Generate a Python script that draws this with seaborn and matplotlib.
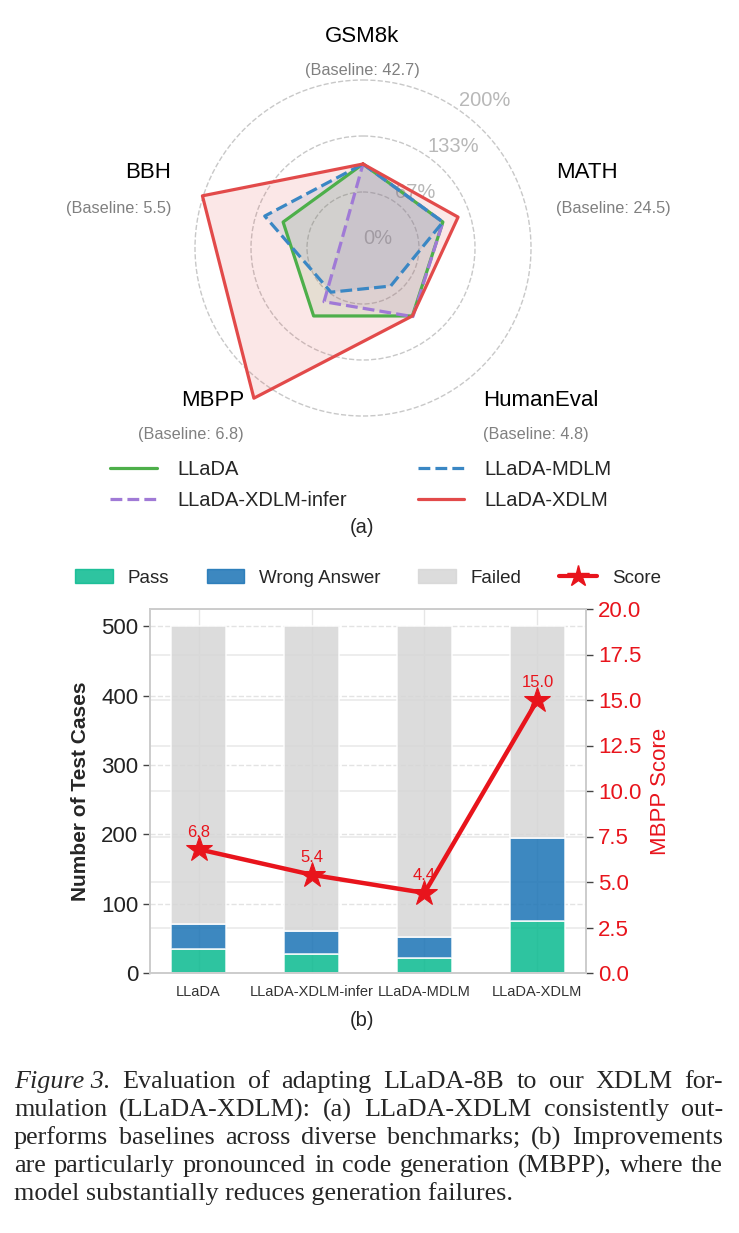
import numpy as np
import pandas as pd
import seaborn as sns
import matplotlib.pyplot as plt
from matplotlib.lines import Line2D
from matplotlib.patches import Patch

# ---- radar data: score relative to the LLaDA baseline (1.0 = baseline) ----
benchmarks = ["GSM8k", "MATH", "HumanEval", "MBPP", "BBH"]
baselines = [42.7, 24.5, 4.8, 6.8, 5.5]
radar_models = ["LLaDA", "LLaDA-XDLM-infer", "LLaDA-MDLM", "LLaDA-XDLM"]
llada_rel = [1.00, 1.00, 1.00, 1.00, 1.00]
xdlm_infer_rel = [1.00, 1.00, 1.01, 0.79, 0.27]
mdlm_rel = [1.00, 1.00, 0.56, 0.65, 1.23]
xdlm_rel = [1.00, 1.19, 1.00, 2.21, 2.01]
radar_ticks = [0, 2 / 3, 4 / 3, 2]
radar_ticklabels = ["0%", "67%", "133%", "200%"]

# ---- MBPP breakdown (500 test cases per model) ----
bar_models = ["LLaDA", "LLaDA-XDLM-infer", "LLaDA-MDLM", "LLaDA-XDLM"]
n_pass = [34, 27, 22, 75]
n_wrong = [37, 34, 30, 120]
n_failed = [429, 439, 448, 305]
mbpp_score = [6.8, 5.4, 4.4, 15.0]
score_ticks = [0, 2.5, 5, 7.5, 10, 12.5, 15, 17.5, 20]

caption_lines = [
    [("Figure 3.", "italic"), ("Evaluation", "normal"), ("of", "normal"), ("adapting", "normal"),
     ("LLaDA-8B", "normal"), ("to", "normal"), ("our", "normal"), ("XDLM", "normal"), ("for-", "normal")],
    "mulation (LLaDA-XDLM): (a) LLaDA-XDLM consistently out-",
    "performs baselines across diverse benchmarks; (b) Improvements",
    "are particularly pronounced in code generation (MBPP), where the",
    "model substantially reduces generation failures.",
]

sns.set_style("white")
plt.rcParams["font.family"] = ["Liberation Sans", "DejaVu Sans"]

W, H = 739, 1233
fig = plt.figure(figsize=(W / 100, H / 100), dpi=100)


def px(x, y):
    return x / W, 1 - y / H


# ---------------- (a) radar ----------------
c_green, c_purple, c_blue, c_red = "#4daf4a", "#a07ad6", "#3a87c4", "#e24a4a"
cx, cy, scale, rmax = 363, 248, 84, 2.4
rad = scale * rmax
axr = fig.add_axes([(cx - rad) / W, 1 - (cy + rad) / H, 2 * rad / W, 2 * rad / H], polar=True)
axr.set_theta_offset(np.pi / 2)
axr.set_theta_direction(-1)
angles = np.arange(len(benchmarks)) * 2 * np.pi / len(benchmarks)
closed = np.r_[angles, angles[0]]

series = [
    (radar_models[0], llada_rel, c_green, "-"),
    (radar_models[1], xdlm_infer_rel, c_purple, "--"),
    (radar_models[2], mdlm_rel, c_blue, "--"),
    (radar_models[3], xdlm_rel, c_red, "-"),
]
handles_a = []
for name, vals, col, ls in series:
    v = np.r_[vals, vals[0]]
    axr.fill(closed, v, color=col, alpha=0.13, lw=0)
    ln, = axr.plot(closed, v, color=col, lw=2.3, ls=ls, label=name)
    handles_a.append(ln)

axr.set_ylim(0, rmax)
axr.set_yticks(radar_ticks)
axr.set_yticklabels(radar_ticklabels, color="#b8b8b8", fontsize=14.5)
axr.set_rlabel_position(35)
axr.set_xticks(angles)
axr.set_xticklabels([])
axr.xaxis.grid(False)
axr.yaxis.grid(True, ls="--", color="#c8c8c8", lw=1)
axr.spines["polar"].set_visible(False)
axr.set_facecolor("none")

name_pos = [(362, 36, "center"), (556, 172, "left"), (483, 400, "left"),
            (244, 400, "right"), (171, 172, "right")]
base_pos = [(362, 70, "center"), (556, 209, "left"), (483, 434, "left"),
            (244, 434, "right"), (171, 209, "right")]
for b, bl, (nx, ny, nha), (bx, by, bha) in zip(benchmarks, baselines, name_pos, base_pos):
    fig.text(*px(nx, ny), b, ha=nha, va="center", fontsize=16, color="black")
    fig.text(*px(bx, by), f"(Baseline: {bl})", ha=bha, va="center", fontsize=11.7, color="#808080")

fig.legend(handles_a, radar_models, loc="center", bbox_to_anchor=px(361, 485), ncol=2,
           frameon=False, fontsize=14.5, handlelength=2.3, handletextpad=1.0, columnspacing=3.55,
           labelspacing=0.6)
fig.text(*px(362, 528), "(a)", ha="center", va="center", fontsize=14.5)

# ---------------- (b) stacked bars + score ----------------
c_pass, c_wrong, c_failed, c_score = "#09ba8f", "#1b73b5", "#d6d6d6", "#e8141c"
bar_alpha = 0.85
left, right, bottom, top = 150, 586, 973, 609
ymax = 525
ax = fig.add_axes([left / W, 1 - bottom / H, (right - left) / W, (bottom - top) / H])

df = pd.DataFrame({"model": bar_models, "pass": n_pass, "wrong": n_wrong, "failed": n_failed})
df["pass_wrong"] = df["pass"] + df["wrong"]
stack = [("pass", c_pass, np.zeros(len(df))),
         ("wrong", c_wrong, df["pass"].to_numpy()),
         ("failed", c_failed, df["pass_wrong"].to_numpy())]
for col, color, base in stack:
    sns.barplot(data=df, x="model", y=col, color=color, saturation=1, width=0.49, alpha=bar_alpha,
                edgecolor="white", linewidth=1.2, errorbar=None, bottom=base, ax=ax)

ax.set_xlim(-0.43, len(bar_models) - 0.57)
ax.set_ylim(0, ymax)
ax.set_yticks([0, 100, 200, 300, 400, 500])
# right-axis grid lines drawn on the left axes so they sit behind the bars
ax.set_yticks([t * ymax / 20 for t in score_ticks], minor=True)
ax.set_xlabel("")
ax.set_ylabel("Number of Test Cases", fontsize=15, fontweight="bold", labelpad=8)
ax.set_axisbelow(True)
ax.yaxis.grid(True, which="major", ls="--", color="#e3e3e3", lw=1)
ax.yaxis.grid(True, which="minor", ls="-", color="#ececec", lw=1.3)
ax.xaxis.grid(True, color="#e6e6e6", lw=1)
ax.tick_params(axis="y", which="major", length=5, width=1, color="#444444", labelsize=16, labelcolor="#222222")
ax.tick_params(axis="y", which="minor", length=0)
ax.tick_params(axis="x", length=0, labelsize=10.5, labelcolor="#333333", pad=9)
for s in ax.spines.values():
    s.set_color("#cccccc")
    s.set_linewidth(1.2)

ax2 = ax.twinx()
sns.lineplot(x=np.arange(len(bar_models)), y=mbpp_score, ax=ax2, color=c_score, lw=3.2,
             marker="*", markersize=19, markeredgecolor=c_score)
for i, s in enumerate(mbpp_score):
    ax2.annotate(f"{s:.1f}", (i, s), xytext=(0, 7), textcoords="offset points",
                 ha="center", va="bottom", color=c_score, fontsize=12)
ax2.set_ylim(0, 20)
ax2.set_yticks(score_ticks)
ax2.set_yticklabels([f"{t:.1f}" for t in score_ticks])
ax2.grid(False)
ax2.set_ylabel("MBPP Score", fontsize=16, color=c_score, labelpad=6)
ax2.tick_params(axis="y", length=5, width=1, color="#444444", labelsize=16, labelcolor=c_score)
for s in ax2.spines.values():
    s.set_color("#cccccc")
    s.set_linewidth(1.2)

handles_b = [Patch(color=c_pass, alpha=bar_alpha, label="Pass"),
             Patch(color=c_wrong, alpha=bar_alpha, label="Wrong Answer"),
             Patch(color=c_failed, alpha=bar_alpha, label="Failed"),
             Line2D([], [], color=c_score, lw=3, marker="*", markersize=16, label="Score")]
ax2.legend(handles=handles_b, loc="center", bbox_to_anchor=((368 - left) / (right - left), (bottom - 578) / (bottom - top)),
           ncol=4, frameon=False, fontsize=13.5, handlelength=2.0, handletextpad=0.8, columnspacing=2.0)
fig.text(*px(362, 1020), "(b)", ha="center", va="center", fontsize=14.5)

# ---------------- caption (justified) ----------------
cap_size = 18.8
cap_x0, cap_x1 = 14, 723
cap_y = [1082, 1110, 1138, 1166, 1194]
renderer = fig.canvas.get_renderer()
for k, (line, y) in enumerate(zip(caption_lines, cap_y)):
    tokens = line if isinstance(line, list) else [(w, "normal") for w in line.split()]
    if k == len(caption_lines) - 1:
        fig.text(*px(cap_x0, y), " ".join(w for w, _ in tokens), ha="left", va="center",
                 fontsize=cap_size, family="Liberation Serif")
        continue
    texts = [fig.text(0, 1 - y / H, w, ha="left", va="center", fontsize=cap_size,
                      family="Liberation Serif", style=st) for w, st in tokens]
    widths = [t.get_window_extent(renderer).width for t in texts]
    gap = (cap_x1 - cap_x0 - sum(widths)) / (len(texts) - 1)
    x = cap_x0
    for t, w in zip(texts, widths):
        t.set_x(x / W)
        x += w + gap

fig.savefig("out.png", dpi=100)
